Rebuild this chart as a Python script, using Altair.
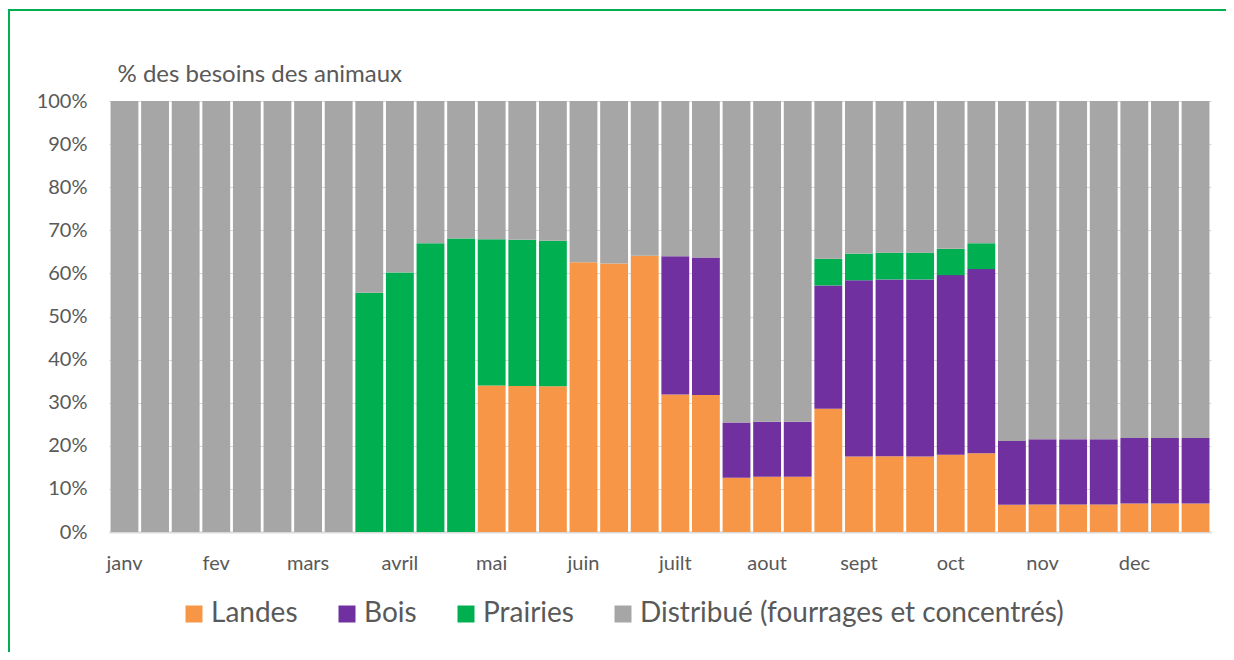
import json
import altair as alt
import pandas as pd

# ---- data ----
months = ["janv", "fev", "mars", "avril", "mai", "juin",
          "juilt", "aout", "sept", "oct", "nov", "dec"]

series = ["Landes", "Bois", "Prairies", "Distribué (fourrages et concentrés)"]
colors = ["#F79646", "#7030A0", "#00B050", "#A6A6A6"]

landes = [0, 0, 0, 0, 0, 0, 0, 0, 0, 0, 0, 0,
          34.0, 33.9, 33.8, 62.6, 62.3, 64.1, 31.9, 31.8, 12.6, 12.8, 12.8, 28.6,
          17.5, 17.6, 17.5, 17.9, 18.3, 6.3, 6.4, 6.4, 6.4, 6.6, 6.6, 6.6]
bois = [0, 0, 0, 0, 0, 0, 0, 0, 0, 0, 0, 0,
        0, 0, 0, 0, 0, 0, 32.1, 31.9, 12.8, 12.8, 12.8, 28.6,
        40.9, 41.0, 41.1, 41.7, 42.7, 14.8, 15.1, 15.1, 15.1, 15.2, 15.2, 15.2]
prairies = [0, 0, 0, 0, 0, 0, 0, 0, 55.5, 60.2, 67.0, 68.1,
            33.9, 33.9, 33.8, 0, 0, 0, 0, 0, 0, 0, 0, 6.2,
            6.2, 6.2, 6.2, 6.1, 6.0, 0, 0, 0, 0, 0, 0, 0]
distribue = [100, 100, 100, 100, 100, 100, 100, 100, 44.5, 39.8, 33.0, 31.9,
             32.1, 32.2, 32.4, 37.4, 37.7, 35.9, 36.0, 36.3, 74.6, 74.4, 74.4, 36.6,
             35.4, 35.2, 35.2, 34.3, 33.0, 78.9, 78.5, 78.5, 78.5, 78.2, 78.2, 78.2]

rows = []
for k, (name, vals) in enumerate(zip(series, [landes, bois, prairies, distribue])):
    for i, v in enumerate(vals):
        if v > 0:
            rows.append({"idx": i, "serie": name, "val": v, "ord": k})
df = pd.DataFrame(rows)

FONT = "Lato"
TXT = "#595959"
GRID = "#D9D9D9"

label_expr = ("datum.value % 3 == 0 ? " + json.dumps(months, ensure_ascii=False)
              + "[floor(datum.value / 3)] : ''")

bars = alt.Chart(df).mark_bar().encode(
    x=alt.X("idx:O",
            scale=alt.Scale(paddingInner=0.09, paddingOuter=0.05),
            axis=alt.Axis(title=None, labelExpr=label_expr, labelAngle=0,
                          ticks=False, grid=False, domainColor=GRID, domainWidth=2,
                          labelPadding=21, labelFontSize=20, labelColor=TXT,
                          labelFont=FONT, labelOverlap=False)),
    y=alt.Y("val:Q", stack="zero",
            scale=alt.Scale(domain=[0, 100], nice=False),
            axis=alt.Axis(values=list(range(0, 101, 10)),
                          labelExpr="datum.value + '%'",
                          title="% des besoins des animaux",
                          titleAngle=0, titleAlign="left", titleBaseline="alphabetic",
                          titleX=8, titleY=-20, titleFontSize=24,
                          titleFontWeight="normal", titleColor=TXT, titleFont=FONT,
                          domain=False, ticks=False, gridColor=GRID, gridWidth=1,
                          labelPadding=22, labelFontSize=20, labelColor=TXT,
                          labelFont=FONT)),
    color=alt.Color("serie:N",
                    scale=alt.Scale(domain=series, range=colors),
                    legend=alt.Legend(title=None, orient="none", direction="horizontal",
                                      legendX=71, legendY=499,
                                      symbolType="square", symbolSize=289,
                                      symbolStrokeWidth=0, labelFontSize=28,
                                      labelColor=TXT, labelFont=FONT,
                                      labelOffset=3, columnPadding=35,
                                      labelLimit=1000)),
    order=alt.Order("ord:Q", sort="ascending"),
)

frame = alt.Chart(pd.DataFrame({"a": [0]})).mark_rect(
    fillOpacity=0, stroke="#00B050", strokeWidth=2, clip=False
).encode(
    x=alt.value(-100), x2=alt.value(1400),
    y=alt.value(-91), y2=alt.value(800),
)

chart = alt.layer(bars, frame).properties(
    width=1102, height=431,
    autosize=alt.AutoSizeParams(type="none"),
    padding={"left": 101, "top": 93, "right": 15, "bottom": 120},
    background="white",
).configure_view(stroke=None)

chart.save("out.html", embed_options={"renderer": "svg", "actions": False})
